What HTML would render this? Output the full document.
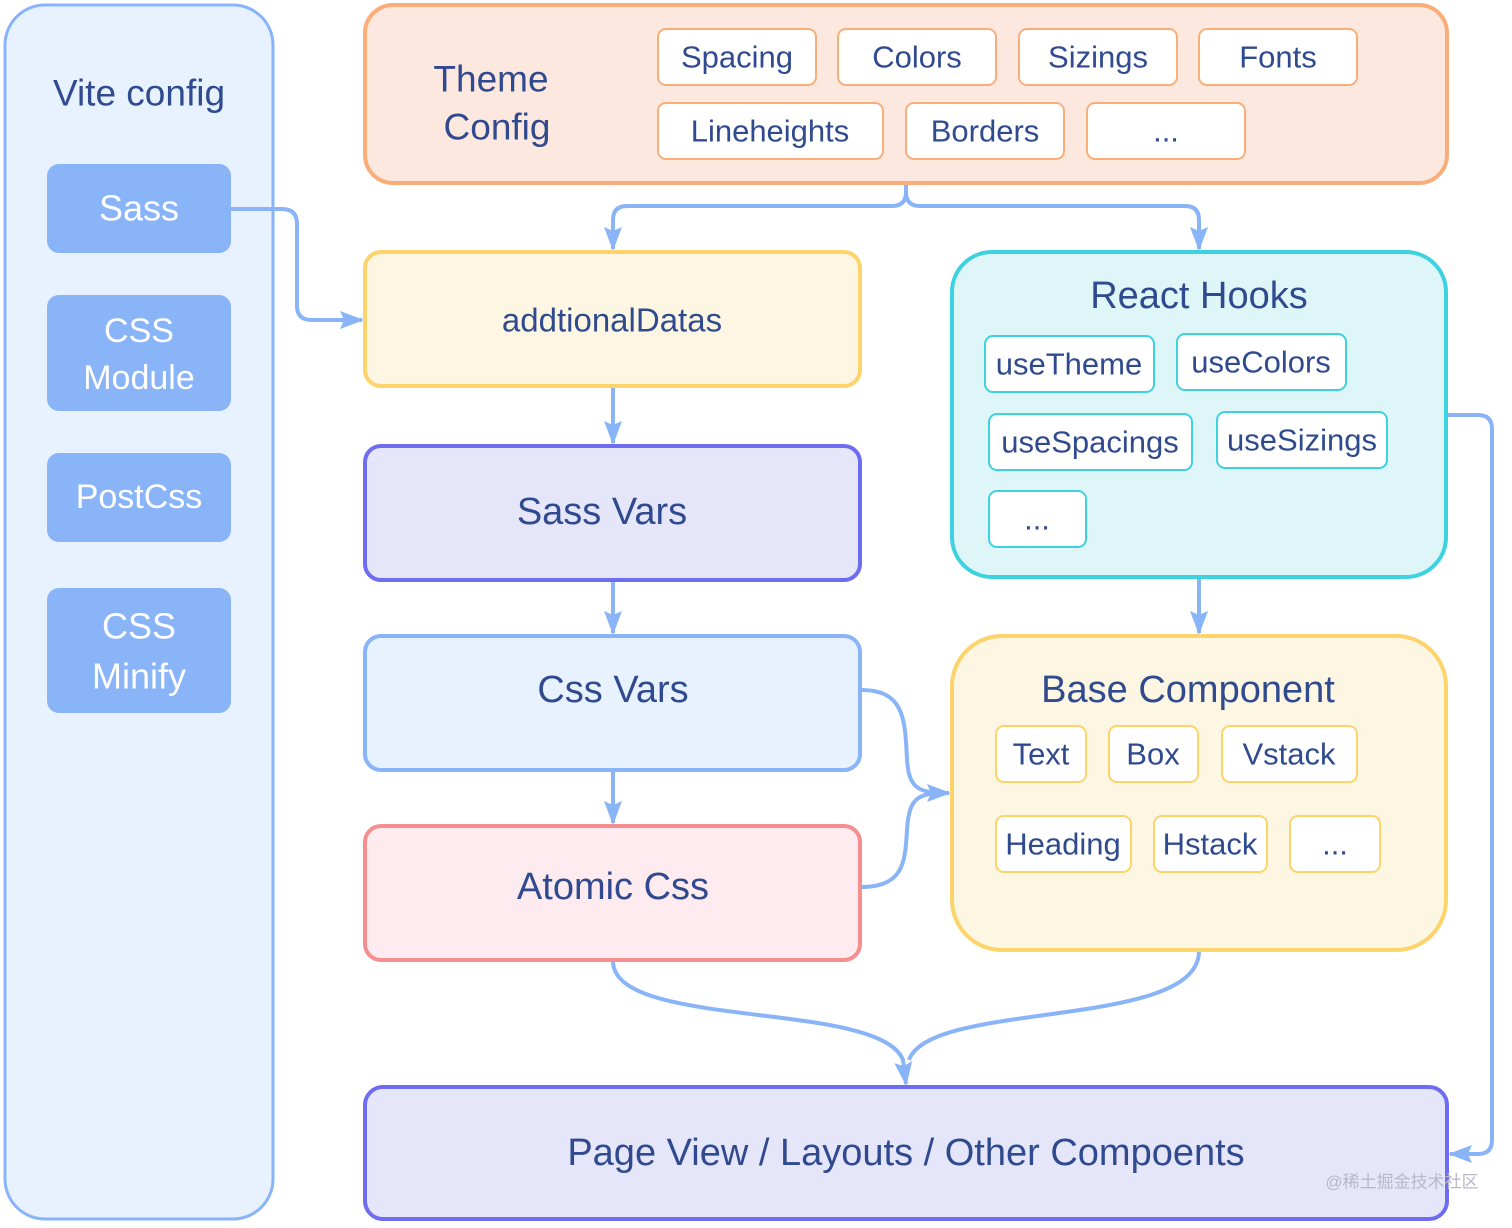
<!DOCTYPE html>
<html><head><meta charset="utf-8"><style>
body{margin:0;background:#fff;width:1512px;height:1223px;overflow:hidden}
text{font-family:"Liberation Sans","Noto Sans CJK SC",sans-serif;fill:#2f4a8f;text-anchor:middle;dominant-baseline:central}
</style></head><body>
<svg width="1512" height="1223" viewBox="0 0 1512 1223" xmlns="http://www.w3.org/2000/svg">
<defs>
<marker id="b" markerWidth="24" markerHeight="24" refX="22" refY="12" orient="auto" markerUnits="userSpaceOnUse" viewBox="0 0 24 24"><path d="M0,3 L24,12 L0,21 L4,12 z" fill="#8ab4f8" stroke="none"/></marker></defs>
<!-- Vite -->
<rect x="5" y="5" width="268" height="1214" rx="40" fill="#e8f2ff" stroke="#8ab4f8" stroke-width="3"/>
<text x="139" y="93" font-size="37">Vite config</text>
<g fill="#8ab4f8">
<rect x="47" y="164" width="184" height="89" rx="12"/>
<rect x="47" y="295" width="184" height="116" rx="12"/>
<rect x="47" y="453" width="184" height="89" rx="12"/>
<rect x="47" y="588" width="184" height="125" rx="12"/>
</g>
<g font-size="36">
<text x="139" y="208" style="fill:#fff">Sass</text>
<text x="139" y="331" font-size="34" style="fill:#fff">CSS</text>
<text x="139" y="378" font-size="34" style="fill:#fff">Module</text>
<text x="139" y="497" font-size="34" style="fill:#fff">PostCss</text>
<text x="139" y="626" style="fill:#fff">CSS</text>
<text x="139" y="676" style="fill:#fff">Minify</text>
</g>
<!-- connectors -->
<g fill="none" stroke="#8ab4f8" stroke-width="4">
<path d="M231,209 H282 Q297,209 297,224 V306 Q297,320 312,320 H362" marker-end="url(#b)"/>
<path d="M906,184 V192 Q906,206 892,206 H627 Q613,206 613,220 V249" marker-end="url(#b)"/>
<path d="M906,192 Q906,206 920,206 H1185 Q1199,206 1199,220 V249" marker-end="url(#b)"/>
<path d="M613,387 V443" marker-end="url(#b)"/>
<path d="M613,581 V633" marker-end="url(#b)"/>
<path d="M613,771 V823" marker-end="url(#b)"/>
<path d="M1199,578 V633" marker-end="url(#b)"/>
<path d="M861,690 C905,690 905,720 907,760 C909,790 920,793 949,793" marker-end="url(#b)"/>
<path d="M861,887 C905,887 905,860 907,830 C909,795 920,793 949,793"/>
<path d="M613,961 C613,1030 880,1000 903,1060 L906,1084" marker-end="url(#b)"/>
<path d="M1199,951 C1199,1030 930,1000 909,1060"/>
<path d="M1447,415 H1478 Q1492,415 1492,429 V1140 Q1492,1154 1478,1154 H1450" marker-end="url(#b)"/>
</g>
<!-- Theme -->
<rect x="365" y="5" width="1082" height="178" rx="28" fill="#fde8df" stroke="#f9ae7a" stroke-width="4"/>
<text x="491" y="79" font-size="37">Theme</text>
<text x="497" y="127" font-size="37">Config</text>
<g fill="#fff" stroke="#f9ae7a" stroke-width="2">
<rect x="658" y="29" width="158" height="56" rx="8"/><rect x="838" y="29" width="158" height="56" rx="8"/>
<rect x="1019" y="29" width="158" height="56" rx="8"/><rect x="1199" y="29" width="158" height="56" rx="8"/>
<rect x="658" y="103" width="225" height="56" rx="8"/><rect x="906" y="103" width="158" height="56" rx="8"/>
<rect x="1087" y="103" width="158" height="56" rx="8"/>
</g>
<g font-size="31">
<text x="737" y="57">Spacing</text><text x="917" y="57">Colors</text><text x="1098" y="57">Sizings</text><text x="1278" y="57">Fonts</text>
<text x="770" y="131">Lineheights</text><text x="985" y="131">Borders</text><text x="1166" y="131">...</text>
</g>
<!-- middle column -->
<rect x="365" y="252" width="495" height="134" rx="16" fill="#fdf6e2" stroke="#fdd36b" stroke-width="4"/>
<text x="612" y="320" font-size="33">addtionalDatas</text>
<rect x="365" y="446" width="495" height="134" rx="16" fill="#e6e6fb" stroke="#6e6cf0" stroke-width="4"/>
<text x="602" y="512" font-size="38">Sass Vars</text>
<rect x="365" y="636" width="495" height="134" rx="16" fill="#e8f2ff" stroke="#8ab4f8" stroke-width="4"/>
<text x="613" y="690" font-size="38">Css Vars</text>
<rect x="365" y="826" width="495" height="134" rx="16" fill="#fdebef" stroke="#f58f8f" stroke-width="4"/>
<text x="613" y="887" font-size="38">Atomic Css</text>
<!-- React hooks -->
<rect x="952" y="252" width="494" height="325" rx="40" fill="#dff6f9" stroke="#3dd2df" stroke-width="4"/>
<text x="1199" y="296" font-size="38">React Hooks</text>
<g fill="#fff" stroke="#3dd2df" stroke-width="2">
<rect x="985" y="336" width="169" height="56" rx="8"/><rect x="1177" y="334" width="169" height="56" rx="8"/>
<rect x="989" y="414" width="203" height="56" rx="8"/><rect x="1217" y="412" width="170" height="56" rx="8"/>
<rect x="989" y="491" width="97" height="56" rx="8"/>
</g>
<g font-size="31">
<text x="1069" y="364">useTheme</text><text x="1261" y="362">useColors</text>
<text x="1090" y="442">useSpacings</text><text x="1302" y="440">useSizings</text><text x="1037" y="519">...</text>
</g>
<!-- Base component -->
<rect x="952" y="636" width="494" height="314" rx="50" fill="#fdf6e2" stroke="#fdd36b" stroke-width="4"/>
<text x="1188" y="690" font-size="38">Base Component</text>
<g fill="#fff" stroke="#fdd36b" stroke-width="2">
<rect x="996" y="726" width="90" height="56" rx="8"/><rect x="1109" y="726" width="89" height="56" rx="8"/>
<rect x="1222" y="726" width="135" height="56" rx="8"/>
<rect x="996" y="816" width="135" height="56" rx="8"/><rect x="1154" y="816" width="113" height="56" rx="8"/>
<rect x="1290" y="816" width="90" height="56" rx="8"/>
</g>
<g font-size="31">
<text x="1041" y="754">Text</text><text x="1153" y="754">Box</text><text x="1289" y="754">Vstack</text>
<text x="1063" y="844">Heading</text><text x="1210" y="844">Hstack</text><text x="1335" y="844">...</text>
</g>
<!-- Page view -->
<rect x="365" y="1087" width="1082" height="132" rx="18" fill="#e6e6fb" stroke="#6e6cf0" stroke-width="4"/>
<text x="906" y="1153" font-size="38">Page View / Layouts / Other Compoents</text>
<text x="1402" y="1182" font-size="17" style="fill:#b8b8c8">@稀土掘金技术社区</text>
</svg>
</body></html>
